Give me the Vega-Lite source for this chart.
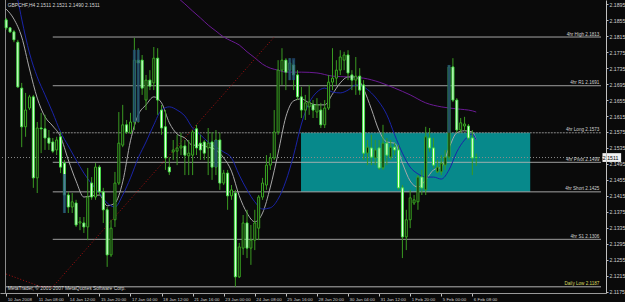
{
 "$schema": "https://vega.github.io/schema/vega-lite/v6.json",
 "width": 606, "height": 293,
 "autosize": {"type": "none"},
 "padding": {"left": 0, "top": 0, "right": 19, "bottom": 9},
 "background": "#0a0a0a",
 "config": {"view": {"stroke": null}, "text": {"font": "Liberation Sans", "fontSize": 5},
   "axisX": {"labelAlign": "left", "labelBaseline": "top", "labelPadding": 1.5, "labelOffset": 1, "labelFontSize": 4.4, "labelFont": "Liberation Sans", "labelColor": "#d0d0d0", "labelOverlap": false, "labelFlush": false, "tickSize": 3, "tickColor": "#c0c0c0", "domainColor": "#9a9a9a", "grid": false},
   "axisY": {"labelPadding": 1, "labelFontSize": 5.2, "labelFont": "Liberation Sans", "labelColor": "#d0d0d0", "labelOverlap": false, "labelSeparation": 0, "labelBound": false, "labelFlush": false, "tickSize": 2, "tickColor": "#c0c0c0", "domainColor": "#c0c0c0", "grid": false}
 },
 "datasets": {
  "candles": [
{"i":0,"o":2.1856,"h":2.1861,"l":2.1831,"c":2.1836},
{"i":1,"o":2.1836,"h":2.1838,"l":2.1823,"c":2.1826},
{"i":2,"o":2.1826,"h":2.1831,"l":2.1800,"c":2.1806},
{"i":3,"o":2.1800,"h":2.1806,"l":2.1685,"c":2.1688},
{"i":4,"o":2.1685,"h":2.1698,"l":2.1537,"c":2.1588},
{"i":5,"o":2.1588,"h":2.1673,"l":2.1563,"c":2.1630},
{"i":6,"o":2.1635,"h":2.1668,"l":2.1630,"c":2.1663},
{"i":7,"o":2.1663,"h":2.1668,"l":2.1435,"c":2.1460},
{"i":8,"o":2.1460,"h":2.1600,"l":2.1422,"c":2.1585},
{"i":9,"o":2.1585,"h":2.1623,"l":2.1522,"c":2.1583},
{"i":10,"o":2.1583,"h":2.1618,"l":2.1530,"c":2.1560},
{"i":11,"o":2.1560,"h":2.1580,"l":2.1530,"c":2.1547},
{"i":12,"o":2.1550,"h":2.1560,"l":2.1522,"c":2.1527},
{"i":13,"o":2.1530,"h":2.1563,"l":2.1517,"c":2.1555},
{"i":14,"o":2.1563,"h":2.1575,"l":2.1472,"c":2.1487},
{"i":15,"o":2.1497,"h":2.1505,"l":2.1372,"c":2.1417},
{"i":16,"o":2.1417,"h":2.1425,"l":2.1372,"c":2.1387},
{"i":17,"o":2.1387,"h":2.1422,"l":2.1372,"c":2.1400},
{"i":18,"o":2.1397,"h":2.1405,"l":2.1337,"c":2.1342},
{"i":19,"o":2.1347,"h":2.1362,"l":2.1329,"c":2.1350},
{"i":20,"o":2.1347,"h":2.1362,"l":2.1322,"c":2.1337},
{"i":21,"o":2.1337,"h":2.1485,"l":2.1304,"c":2.1412},
{"i":22,"o":2.1447,"h":2.1462,"l":2.1405,"c":2.1412},
{"i":23,"o":2.1412,"h":2.1497,"l":2.1405,"c":2.1487},
{"i":24,"o":2.1487,"h":2.1492,"l":2.1417,"c":2.1425},
{"i":25,"o":2.1425,"h":2.1435,"l":2.1347,"c":2.1380},
{"i":26,"o":2.1380,"h":2.1387,"l":2.1237,"c":2.1267},
{"i":27,"o":2.1267,"h":2.1355,"l":2.1262,"c":2.1334},
{"i":28,"o":2.1355,"h":2.1475,"l":2.1337,"c":2.1447},
{"i":29,"o":2.1447,"h":2.1625,"l":2.1442,"c":2.1547},
{"i":30,"o":2.1542,"h":2.1643,"l":2.1537,"c":2.1593},
{"i":31,"o":2.1593,"h":2.1605,"l":2.1570,"c":2.1575},
{"i":32,"o":2.1573,"h":2.1623,"l":2.1570,"c":2.1600},
{"i":33,"o":2.1600,"h":2.1811,"l":2.1580,"c":2.1755},
{"i":34,"o":2.1755,"h":2.1785,"l":2.1598,"c":2.1748},
{"i":35,"o":2.1755,"h":2.1768,"l":2.1668,"c":2.1685},
{"i":36,"o":2.1655,"h":2.1718,"l":2.1630,"c":2.1705},
{"i":37,"o":2.1705,"h":2.1730,"l":2.1680,"c":2.1690},
{"i":38,"o":2.1698,"h":2.1788,"l":2.1680,"c":2.1760},
{"i":39,"o":2.1760,"h":2.1785,"l":2.1618,"c":2.1655},
{"i":40,"o":2.1630,"h":2.1643,"l":2.1568,"c":2.1585},
{"i":41,"o":2.1588,"h":2.1630,"l":2.1480,"c":2.1510},
{"i":42,"o":2.1487,"h":2.1512,"l":2.1467,"c":2.1475},
{"i":43,"o":2.1525,"h":2.1555,"l":2.1505,"c":2.1530},
{"i":44,"o":2.1527,"h":2.1568,"l":2.1492,"c":2.1535},
{"i":45,"o":2.1535,"h":2.1573,"l":2.1517,"c":2.1540},
{"i":46,"o":2.1540,"h":2.1555,"l":2.1467,"c":2.1517},
{"i":47,"o":2.1515,"h":2.1555,"l":2.1467,"c":2.1522},
{"i":48,"o":2.1517,"h":2.1580,"l":2.1467,"c":2.1575},
{"i":49,"o":2.1583,"h":2.1593,"l":2.1517,"c":2.1535},
{"i":50,"o":2.1547,"h":2.1568,"l":2.1505,"c":2.1530},
{"i":51,"o":2.1550,"h":2.1555,"l":2.1505,"c":2.1522},
{"i":52,"o":2.1535,"h":2.1585,"l":2.1467,"c":2.1547},
{"i":53,"o":2.1550,"h":2.1575,"l":2.1455,"c":2.1487},
{"i":54,"o":2.1487,"h":2.1580,"l":2.1467,"c":2.1555},
{"i":55,"o":2.1555,"h":2.1573,"l":2.1430,"c":2.1447},
{"i":56,"o":2.1447,"h":2.1480,"l":2.1442,"c":2.1472},
{"i":57,"o":2.1472,"h":2.1480,"l":2.1380,"c":2.1415},
{"i":58,"o":2.1415,"h":2.1442,"l":2.1405,"c":2.1430},
{"i":59,"o":2.1422,"h":2.1430,"l":2.1187,"c":2.1212},
{"i":60,"o":2.1212,"h":2.1297,"l":2.1209,"c":2.1287},
{"i":61,"o":2.1284,"h":2.1367,"l":2.1267,"c":2.1347},
{"i":62,"o":2.1347,"h":2.1380,"l":2.1259,"c":2.1284},
{"i":63,"o":2.1284,"h":2.1342,"l":2.1242,"c":2.1304},
{"i":64,"o":2.1304,"h":2.1380,"l":2.1279,"c":2.1347},
{"i":65,"o":2.1334,"h":2.1417,"l":2.1304,"c":2.1412},
{"i":66,"o":2.1412,"h":2.1460,"l":2.1405,"c":2.1447},
{"i":67,"o":2.1442,"h":2.1517,"l":2.1430,"c":2.1492},
{"i":68,"o":2.1492,"h":2.1522,"l":2.1480,"c":2.1510},
{"i":69,"o":2.1510,"h":2.1630,"l":2.1505,"c":2.1575},
{"i":70,"o":2.1575,"h":2.1755,"l":2.1568,"c":2.1730},
{"i":71,"o":2.1730,"h":2.1785,"l":2.1693,"c":2.1755},
{"i":72,"o":2.1755,"h":2.1760,"l":2.1680,"c":2.1725},
{"i":73,"o":2.1730,"h":2.1760,"l":2.1705,"c":2.1748},
{"i":74,"o":2.1743,"h":2.1755,"l":2.1680,"c":2.1718},
{"i":75,"o":2.1718,"h":2.1730,"l":2.1655,"c":2.1663},
{"i":76,"o":2.1663,"h":2.1688,"l":2.1610,"c":2.1630},
{"i":77,"o":2.1630,"h":2.1668,"l":2.1605,"c":2.1648},
{"i":78,"o":2.1638,"h":2.1693,"l":2.1618,"c":2.1650},
{"i":79,"o":2.1643,"h":2.1655,"l":2.1610,"c":2.1630},
{"i":80,"o":2.1625,"h":2.1660,"l":2.1610,"c":2.1643},
{"i":81,"o":2.1630,"h":2.1648,"l":2.1585,"c":2.1593},
{"i":82,"o":2.1593,"h":2.1655,"l":2.1585,"c":2.1635},
{"i":83,"o":2.1635,"h":2.1718,"l":2.1630,"c":2.1700},
{"i":84,"o":2.1700,"h":2.1785,"l":2.1680,"c":2.1710},
{"i":85,"o":2.1710,"h":2.1755,"l":2.1693,"c":2.1730},
{"i":86,"o":2.1730,"h":2.1780,"l":2.1718,"c":2.1763},
{"i":87,"o":2.1755,"h":2.1776,"l":2.1730,"c":2.1768},
{"i":88,"o":2.1768,"h":2.1780,"l":2.1705,"c":2.1723},
{"i":89,"o":2.1718,"h":2.1730,"l":2.1680,"c":2.1705},
{"i":90,"o":2.1705,"h":2.1763,"l":2.1668,"c":2.1715},
{"i":91,"o":2.1715,"h":2.1735,"l":2.1668,"c":2.1680},
{"i":92,"o":2.1693,"h":2.1705,"l":2.1505,"c":2.1522},
{"i":93,"o":2.1522,"h":2.1555,"l":2.1492,"c":2.1537},
{"i":94,"o":2.1535,"h":2.1568,"l":2.1492,"c":2.1512},
{"i":95,"o":2.1510,"h":2.1555,"l":2.1492,"c":2.1530},
{"i":96,"o":2.1535,"h":2.1555,"l":2.1480,"c":2.1485},
{"i":97,"o":2.1485,"h":2.1593,"l":2.1480,"c":2.1547},
{"i":98,"o":2.1547,"h":2.1560,"l":2.1492,"c":2.1517},
{"i":99,"o":2.1512,"h":2.1555,"l":2.1505,"c":2.1537},
{"i":100,"o":2.1537,"h":2.1547,"l":2.1517,"c":2.1530},
{"i":101,"o":2.1530,"h":2.1542,"l":2.1430,"c":2.1435},
{"i":102,"o":2.1435,"h":2.1442,"l":2.1259,"c":2.1312},
{"i":103,"o":2.1312,"h":2.1380,"l":2.1279,"c":2.1355},
{"i":104,"o":2.1355,"h":2.1430,"l":2.1334,"c":2.1410},
{"i":105,"o":2.1397,"h":2.1417,"l":2.1392,"c":2.1405},
{"i":106,"o":2.1400,"h":2.1467,"l":2.1380,"c":2.1462},
{"i":107,"o":2.1462,"h":2.1480,"l":2.1417,"c":2.1435},
{"i":108,"o":2.1430,"h":2.1588,"l":2.1417,"c":2.1563},
{"i":109,"o":2.1560,"h":2.1585,"l":2.1525,"c":2.1535},
{"i":110,"o":2.1535,"h":2.1560,"l":2.1485,"c":2.1492},
{"i":111,"o":2.1475,"h":2.1505,"l":2.1472,"c":2.1487},
{"i":112,"o":2.1475,"h":2.1517,"l":2.1467,"c":2.1497},
{"i":113,"o":2.1492,"h":2.1530,"l":2.1480,"c":2.1512},
{"i":114,"o":2.1512,"h":2.1743,"l":2.1505,"c":2.1738},
{"i":115,"o":2.1738,"h":2.1760,"l":2.1650,"c":2.1655},
{"i":116,"o":2.1655,"h":2.1660,"l":2.1573,"c":2.1580},
{"i":117,"o":2.1580,"h":2.1610,"l":2.1573,"c":2.1598},
{"i":118,"o":2.1590,"h":2.1613,"l":2.1578,"c":2.1595},
{"i":119,"o":2.1590,"h":2.1595,"l":2.1555,"c":2.1560},
{"i":120,"o":2.1560,"h":2.1580,"l":2.1467,"c":2.1510},
{"i":121,"o":2.1511,"h":2.1521,"l":2.1490,"c":2.1511}
  ],
  "shade": [
   {"i":15,"top":2.1470,"bot":2.1372},
   {"i":33,"top":2.1781,"bot":2.1600},
   {"i":34,"top":2.1781,"bot":2.1600},
   {"i":54,"top":2.1555,"bot":2.1487},
   {"i":73,"top":2.1760,"bot":2.1705},
   {"i":74,"top":2.1760,"bot":2.1705},
   {"i":114,"top":2.1743,"bot":2.1573}
  ],
  "ma": [
{"s":"fast","i":0,"p":2.1883},{"s":"fast","i":2,"p":2.1858},{"s":"fast","i":4,"p":2.1813},{"s":"fast","i":6,"p":2.1733},{"s":"fast","i":8,"p":2.1660},{"s":"fast","i":10,"p":2.1613},{"s":"fast","i":12,"p":2.1590},{"s":"fast","i":14,"p":2.1563},{"s":"fast","i":16,"p":2.1505},{"s":"fast","i":18,"p":2.1452},{"s":"fast","i":20,"p":2.1412},{"s":"fast","i":22,"p":2.1415},{"s":"fast","i":24,"p":2.1417},{"s":"fast","i":26,"p":2.1390},{"s":"fast","i":28,"p":2.1397},{"s":"fast","i":30,"p":2.1450},{"s":"fast","i":32,"p":2.1553},{"s":"fast","i":34,"p":2.1618},{"s":"fast","i":36,"p":2.1643},{"s":"fast","i":38,"p":2.1663},{"s":"fast","i":40,"p":2.1648},{"s":"fast","i":42,"p":2.1598},{"s":"fast","i":44,"p":2.1570},{"s":"fast","i":46,"p":2.1560},{"s":"fast","i":48,"p":2.1542},{"s":"fast","i":50,"p":2.1542},{"s":"fast","i":52,"p":2.1537},{"s":"fast","i":54,"p":2.1530},{"s":"fast","i":56,"p":2.1510},{"s":"fast","i":58,"p":2.1477},{"s":"fast","i":60,"p":2.1415},{"s":"fast","i":62,"p":2.1372},{"s":"fast","i":64,"p":2.1350},{"s":"fast","i":66,"p":2.1372},{"s":"fast","i":68,"p":2.1437},{"s":"fast","i":70,"p":2.1522},{"s":"fast","i":72,"p":2.1613},{"s":"fast","i":74,"p":2.1653},{"s":"fast","i":76,"p":2.1658},{"s":"fast","i":78,"p":2.1648},{"s":"fast","i":80,"p":2.1643},{"s":"fast","i":82,"p":2.1643},{"s":"fast","i":84,"p":2.1670},{"s":"fast","i":86,"p":2.1698},{"s":"fast","i":88,"p":2.1713},{"s":"fast","i":90,"p":2.1713},{"s":"fast","i":92,"p":2.1683},{"s":"fast","i":94,"p":2.1633},{"s":"fast","i":96,"p":2.1578},{"s":"fast","i":98,"p":2.1550},{"s":"fast","i":100,"p":2.1547},{"s":"fast","i":102,"p":2.1497},{"s":"fast","i":104,"p":2.1452},{"s":"fast","i":106,"p":2.1437},{"s":"fast","i":108,"p":2.1455},{"s":"fast","i":110,"p":2.1480},{"s":"fast","i":112,"p":2.1487},{"s":"fast","i":114,"p":2.1535},{"s":"fast","i":116,"p":2.1573},{"s":"fast","i":118,"p":2.1578},{"s":"fast","i":120,"p":2.1575},{"s":"fast","i":121,"p":2.1555},
{"s":"mid","i":2,"p":2.1943},{"s":"mid","i":3,"p":2.1906},{"s":"mid","i":4,"p":2.1858},{"s":"mid","i":6,"p":2.1773},{"s":"mid","i":8,"p":2.1713},{"s":"mid","i":10,"p":2.1668},{"s":"mid","i":12,"p":2.1623},{"s":"mid","i":14,"p":2.1575},{"s":"mid","i":16,"p":2.1540},{"s":"mid","i":18,"p":2.1505},{"s":"mid","i":20,"p":2.1472},{"s":"mid","i":22,"p":2.1445},{"s":"mid","i":24,"p":2.1422},{"s":"mid","i":26,"p":2.1397},{"s":"mid","i":28,"p":2.1387},{"s":"mid","i":30,"p":2.1417},{"s":"mid","i":32,"p":2.1460},{"s":"mid","i":34,"p":2.1510},{"s":"mid","i":36,"p":2.1550},{"s":"mid","i":38,"p":2.1593},{"s":"mid","i":40,"p":2.1630},{"s":"mid","i":42,"p":2.1638},{"s":"mid","i":44,"p":2.1630},{"s":"mid","i":46,"p":2.1615},{"s":"mid","i":48,"p":2.1585},{"s":"mid","i":50,"p":2.1568},{"s":"mid","i":52,"p":2.1550},{"s":"mid","i":54,"p":2.1537},{"s":"mid","i":56,"p":2.1525},{"s":"mid","i":58,"p":2.1510},{"s":"mid","i":60,"p":2.1467},{"s":"mid","i":62,"p":2.1430},{"s":"mid","i":64,"p":2.1400},{"s":"mid","i":66,"p":2.1382},{"s":"mid","i":68,"p":2.1385},{"s":"mid","i":70,"p":2.1407},{"s":"mid","i":72,"p":2.1452},{"s":"mid","i":74,"p":2.1517},{"s":"mid","i":76,"p":2.1595},{"s":"mid","i":78,"p":2.1648},{"s":"mid","i":80,"p":2.1675},{"s":"mid","i":82,"p":2.1685},{"s":"mid","i":84,"p":2.1675},{"s":"mid","i":86,"p":2.1673},{"s":"mid","i":88,"p":2.1680},{"s":"mid","i":90,"p":2.1693},{"s":"mid","i":92,"p":2.1688},{"s":"mid","i":94,"p":2.1673},{"s":"mid","i":96,"p":2.1650},{"s":"mid","i":98,"p":2.1618},{"s":"mid","i":100,"p":2.1568},{"s":"mid","i":102,"p":2.1522},{"s":"mid","i":104,"p":2.1487},{"s":"mid","i":106,"p":2.1470},{"s":"mid","i":108,"p":2.1462},{"s":"mid","i":110,"p":2.1462},{"s":"mid","i":112,"p":2.1457},{"s":"mid","i":114,"p":2.1480},{"s":"mid","i":116,"p":2.1525},{"s":"mid","i":118,"p":2.1555},{"s":"mid","i":120,"p":2.1570},{"s":"mid","i":121,"p":2.1555},
{"s":"slow","i":44,"p":2.1913},{"s":"slow","i":46,"p":2.1896},{"s":"slow","i":48,"p":2.1878},{"s":"slow","i":50,"p":2.1861},{"s":"slow","i":52,"p":2.1843},{"s":"slow","i":54,"p":2.1828},{"s":"slow","i":56,"p":2.1813},{"s":"slow","i":58,"p":2.1803},{"s":"slow","i":60,"p":2.1793},{"s":"slow","i":62,"p":2.1776},{"s":"slow","i":64,"p":2.1761},{"s":"slow","i":66,"p":2.1745},{"s":"slow","i":68,"p":2.1735},{"s":"slow","i":70,"p":2.1730},{"s":"slow","i":72,"p":2.1725},{"s":"slow","i":76,"p":2.1725},{"s":"slow","i":80,"p":2.1723},{"s":"slow","i":84,"p":2.1715},{"s":"slow","i":88,"p":2.1713},{"s":"slow","i":92,"p":2.1710},{"s":"slow","i":96,"p":2.1700},{"s":"slow","i":100,"p":2.1685},{"s":"slow","i":104,"p":2.1668},{"s":"slow","i":108,"p":2.1648},{"s":"slow","i":112,"p":2.1638},{"s":"slow","i":116,"p":2.1633},{"s":"slow","i":120,"p":2.1628},{"s":"slow","i":121,"p":2.1625}
  ],
  "red": [{"i":0,"p":2.1219},{"i":9,"p":2.1187},{"i":12,"p":2.1187},{"i":69,"p":2.1813}],
  "levels": [
   {"name":"4hr High","p":2.1813,"from":12,"label":"4hr High 2.1813"},
   {"name":"4hr R1","p":2.1691,"from":12,"label":"4hr R1 2.1691"},
   {"name":"4hr Long","p":2.1573,"from":12,"label":"4hr Long 2.1573"},
   {"name":"4hr Pivot","p":2.1499,"from":12,"label":"4hr Pivot 2.1499"},
   {"name":"4hr Short","p":2.1425,"from":12,"label":"4hr Short 2.1425"},
   {"name":"4hr S1","p":2.1306,"from":12,"label":"4hr S1 2.1306"},
   {"name":"Daily Low","p":2.1187,"from":-0.3,"label":"Daily Low 2.1187"}
  ],
  "zone": [{"x1":75.9,"x2":134.9,"p1":2.1573,"p2":2.1425}],
  "yticks": [{"p":2.1175},{"p":2.1215},{"p":2.1255},{"p":2.1295},{"p":2.1335},{"p":2.1375},{"p":2.1415},{"p":2.1455},{"p":2.1495},{"p":2.1535},{"p":2.1575},{"p":2.1615},{"p":2.1655},{"p":2.1695},{"p":2.1735},{"p":2.1775},{"p":2.1815},{"p":2.1855},{"p":2.1895}]
 },
 "layer": [
  {
   "data": {"name": "yticks"},
   "mark": {"type": "tick", "opacity": 0},
   "encoding": {
    "y": {"field": "p", "type": "quantitative", "scale": {"domain": [2.11715, 2.19058], "nice": false, "zero": false},
          "axis": {"title": null, "orient": "right", "labelOverlap": false, "labelSeparation": 0, "labelBound": false, "tickCount": 19, "values": [2.1175,2.1215,2.1255,2.1295,2.1335,2.1375,2.1415,2.1455,2.1495,2.1535,2.1575,2.1615,2.1655,2.1695,2.1735,2.1775,2.1815,2.1855,2.1895], "format": ".4f", "labelFontSize": 5.2, "zindex": 1}}
   }
  },
  {
   "data": {"name": "zone"},
   "mark": {"type": "rect", "fill": "#07898b"},
   "encoding": {
    "x": {"field": "x1", "type": "quantitative", "scale": {"domain": [-0.3, 153.12], "nice": false, "zero": false},
          "axis": {"title": null, "labelOverlap": false, "values": [0,8,16,24,32,40,48,56,64,72,80,88,96,104,112,120], "labelExpr": "['10 Jan 2008','11 Jan 08:00','14 Jan 12:00','15 Jan 20:00','17 Jan 04:00','18 Jan 12:00','21 Jan 16:00','23 Jan 00:00','24 Jan 08:00','25 Jan 16:00','28 Jan 20:00','30 Jan 04:00','31 Jan 12:00','1 Feb 20:00','5 Feb 00:00','6 Feb 08:00'][round(datum.value/8)]"}},
    "x2": {"field": "x2"},
    "y": {"field": "p1", "type": "quantitative", "scale": {"domain": [2.11715, 2.19058], "nice": false, "zero": false}},
    "y2": {"field": "p2"}
   }
  },
  {
   "data": {"name": "levels"},
   "mark": {"type": "rule", "strokeWidth": 1},
   "encoding": {
    "x": {"field": "from", "type": "quantitative", "scale": {"domain": [-0.3, 153.12], "nice": false, "zero": false}},
    "x2": {"datum": 153.12},
    "y": {"field": "p", "type": "quantitative", "scale": {"domain": [2.11715, 2.19058], "nice": false, "zero": false}},
    "color": {"condition": {"test": "datum.name === '4hr Long'", "value": "#8a8a8a"}, "value": "#b4b4b4"},
    "strokeDash": {"condition": {"test": "datum.name === '4hr Long'", "value": [2, 1]}, "value": [1, 0]}
   }
  },
  {
   "data": {"values": [{"p": 2.1511}]},
   "mark": {"type": "rule", "color": "#8c8c8c", "strokeDash": [1, 2], "strokeWidth": 1},
   "encoding": {
    "y": {"field": "p", "type": "quantitative", "scale": {"domain": [2.11715, 2.19058], "nice": false, "zero": false}}
   }
  },
  {
   "data": {"values": [{"i": -0.17}]},
   "mark": {"type": "rule", "color": "#8c8c8c", "strokeWidth": 1},
   "encoding": {
    "x": {"field": "i", "type": "quantitative", "scale": {"domain": [-0.3, 153.12], "nice": false, "zero": false}}
   }
  },
  {
   "data": {"name": "ma"},
   "mark": {"type": "line", "strokeWidth": 1, "clip": true, "interpolate": "monotone"},
   "encoding": {
    "x": {"field": "i", "type": "quantitative", "scale": {"domain": [-0.3, 153.12], "nice": false, "zero": false}},
    "y": {"field": "p", "type": "quantitative", "scale": {"domain": [2.11715, 2.19058], "nice": false, "zero": false}},
    "color": {"field": "s", "type": "nominal", "scale": {"domain": ["fast", "mid", "slow"], "range": ["#a8a8a8", "#1a24a8", "#6a1a94"]}, "legend": null}
   }
  },
  {
   "data": {"name": "red"},
   "mark": {"type": "line", "strokeWidth": 1, "color": "#a81010", "strokeDash": [1, 2], "clip": true},
   "encoding": {
    "x": {"field": "i", "type": "quantitative", "scale": {"domain": [-0.3, 153.12], "nice": false, "zero": false}},
    "y": {"field": "p", "type": "quantitative", "scale": {"domain": [2.11715, 2.19058], "nice": false, "zero": false}}
   }
  },
  {
   "data": {"name": "candles"},
   "mark": {"type": "rule", "color": "#3a9a22", "strokeWidth": 1},
   "encoding": {
    "x": {"field": "i", "type": "quantitative", "scale": {"domain": [-0.3, 153.12], "nice": false, "zero": false}},
    "y": {"field": "l", "type": "quantitative", "scale": {"domain": [2.11715, 2.19058], "nice": false, "zero": false}},
    "y2": {"field": "h"}
   }
  },
  {
   "data": {"name": "candles"},
   "mark": {"type": "bar", "orient": "vertical", "width": 2, "strokeWidth": 1},
   "encoding": {
    "x": {"field": "i", "type": "quantitative", "scale": {"domain": [-0.3, 153.12], "nice": false, "zero": false}},
    "y": {"field": "o", "type": "quantitative", "scale": {"domain": [2.11715, 2.19058], "nice": false, "zero": false}},
    "y2": {"field": "c"},
    "fill": {"condition": {"test": "datum.c > datum.o", "value": "#0a0a0a"}, "value": "#f0fff0"},
    "stroke": {"condition": {"test": "datum.c > datum.o", "value": "#3aa822"}, "value": "#44e044"}
   }
  },
  {
   "data": {"name": "shade"},
   "mark": {"type": "bar", "orient": "vertical", "width": 3, "fill": "#24507e", "opacity": 0.75},
   "encoding": {
    "x": {"field": "i", "type": "quantitative", "scale": {"domain": [-0.3, 153.12], "nice": false, "zero": false}},
    "y": {"field": "top", "type": "quantitative", "scale": {"domain": [2.11715, 2.19058], "nice": false, "zero": false}},
    "y2": {"field": "bot"}
   }
  },
  {
   "data": {"name": "levels"},
   "mark": {"type": "text", "align": "right", "baseline": "bottom", "dy": -0.5, "fontSize": 4.6},
   "encoding": {
    "x": {"datum": 152.7, "type": "quantitative", "scale": {"domain": [-0.3, 153.12], "nice": false, "zero": false}},
    "y": {"field": "p", "type": "quantitative", "scale": {"domain": [2.11715, 2.19058], "nice": false, "zero": false}},
    "text": {"field": "label"},
    "color": {"condition": {"test": "datum.name === 'Daily Low'", "value": "#d8d860"}, "value": "#d0d0d0"}
   }
  },
  {
   "data": {"values": [
    {"t": "GBPCHF,H4  2.1511 2.1521 2.1490 2.1511", "i": 0.4, "p": 2.1892},
    {"t": "MetaTrader, © 2001-2007 MetaQuotes Software Corp.", "i": 0.4, "p": 2.1181}
   ]},
   "mark": {"type": "text", "align": "left", "baseline": "middle", "fontSize": 4.9, "color": "#d8d8d8"},
   "encoding": {
    "x": {"field": "i", "type": "quantitative", "scale": {"domain": [-0.3, 153.12], "nice": false, "zero": false}},
    "y": {"field": "p", "type": "quantitative", "scale": {"domain": [2.11715, 2.19058], "nice": false, "zero": false}},
    "text": {"field": "t"}
   }
  },
  {
   "data": {"values": [{"a": 153.5, "b": 158.3, "p1": 2.1522, "p2": 2.1500}]},
   "mark": {"type": "rect", "fill": "#f0f0f0", "clip": false},
   "encoding": {
    "x": {"field": "a", "type": "quantitative", "scale": {"domain": [-0.3, 153.12], "nice": false, "zero": false}},
    "x2": {"field": "b"},
    "y": {"field": "p1", "type": "quantitative", "scale": {"domain": [2.11715, 2.19058], "nice": false, "zero": false}},
    "y2": {"field": "p2"}
   }
  },
  {
   "data": {"values": [{"i": 153.6, "p": 2.1511, "t": "2.1511"}]},
   "mark": {"type": "text", "align": "left", "baseline": "middle", "fontSize": 5.2, "color": "#000000"},
   "encoding": {
    "x": {"field": "i", "type": "quantitative", "scale": {"domain": [-0.3, 153.12], "nice": false, "zero": false}},
    "y": {"field": "p", "type": "quantitative", "scale": {"domain": [2.11715, 2.19058], "nice": false, "zero": false}},
    "text": {"field": "t"}
   }
  }
 ]
}
